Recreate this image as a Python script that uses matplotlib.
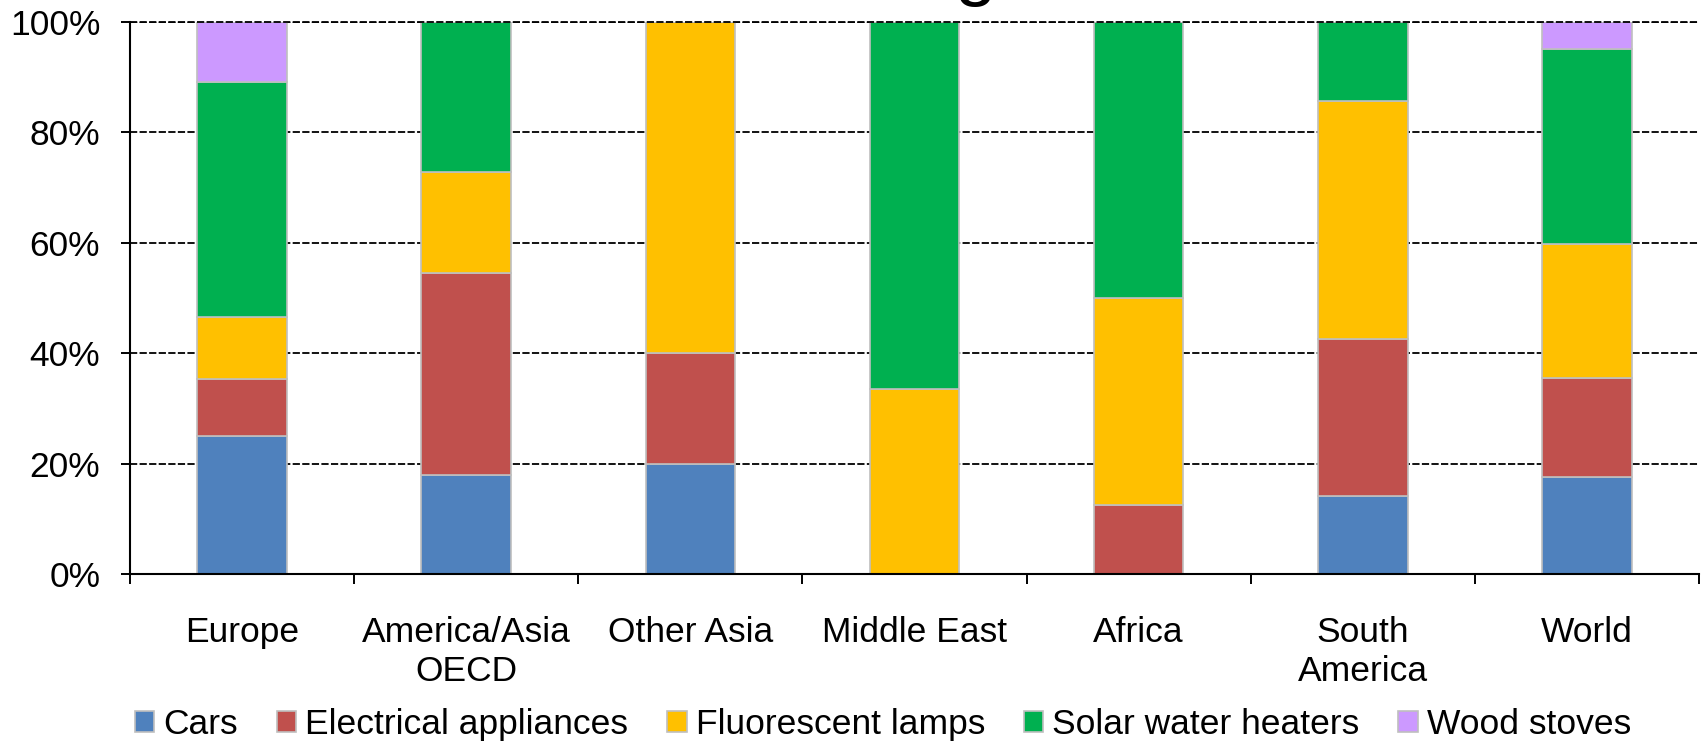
import matplotlib
matplotlib.use('Agg')
import matplotlib.pyplot as plt
from matplotlib.ticker import PercentFormatter
import numpy as np

# Share of savings per measure, by region (percent of regional total)
regions = ['Europe', 'America/Asia\nOECD', 'Other Asia', 'Middle East',
           'Africa', 'South\nAmerica', 'World']
cars = [25, 18, 20, 0, 0, 14.2, 17.5]
electrical = [10.3, 36.5, 20, 0, 12.5, 28.4, 17.9]
fluorescent = [11.2, 18.3, 60, 33.5, 37.5, 43.1, 24.4]
solar = [42.5, 27.2, 0, 66.5, 50, 14.3, 35.2]
wood = [11, 0, 0, 0, 0, 0, 5]

series_names = ['Cars', 'Electrical appliances', 'Fluorescent lamps',
                'Solar water heaters', 'Wood stoves']
colors = ['#4F81BD', '#C0504D', '#FFC000', '#00B050', '#CC99FF']


def create_chart():
    plt.rcParams['font.family'] = ['Liberation Sans', 'DejaVu Sans']

    fig = plt.figure(figsize=(17.06, 7.44), dpi=100)
    ax = fig.add_axes([0.0762, 0.2285, 0.9197, 0.7423])

    x = np.arange(len(regions))
    bottom = np.zeros(len(regions))
    for name, vals, col in zip(series_names,
                               [cars, electrical, fluorescent, solar, wood],
                               colors):
        vals = np.array(vals, dtype=float)
        ax.bar(x, vals, width=0.40, bottom=bottom, color=col,
               edgecolor='#BFBFBF', linewidth=1.2, label=name, zorder=2)
        bottom += vals

    # Axis limits and ticks
    ax.set_xlim(-0.5, len(regions) - 0.5)
    ax.set_ylim(0, 100)
    ax.set_yticks([0, 20, 40, 60, 80, 100])
    ax.yaxis.set_major_formatter(PercentFormatter(xmax=100, decimals=0))
    ax.tick_params(axis='y', labelsize=25.5, direction='out', length=6.5,
                   width=1.4, pad=15)

    ax.set_xticks(x)
    ax.set_xticklabels(regions, fontsize=25.5, linespacing=1.25)
    ax.tick_params(axis='x', which='major', length=0, pad=30)
    ax.set_xticks(np.arange(-0.5, len(regions)), minor=True)
    ax.tick_params(axis='x', which='minor', direction='out', length=7,
                   width=1.4)

    for side in ['top', 'right']:
        ax.spines[side].set_visible(False)
    for side in ['left', 'bottom']:
        ax.spines[side].set_linewidth(1.5)
        ax.spines[side].set_zorder(3)

    # Dashed horizontal gridlines
    ax.yaxis.grid(True, color='black', linewidth=1.3,
                  linestyle=(0, (4, 1.3)), zorder=0)
    ax.set_axisbelow(True)
    ax.axhline(100, color='black', linewidth=1.3,
               linestyle=(0, (4, 1.3)), zorder=3, clip_on=False)

    # Title sits mostly above the canvas
    fig.text(976 / 1706, 1 + 8 / 744, 'g', ha='center', va='baseline',
             fontsize=54)

    fig.legend(loc='center', bbox_to_anchor=(883 / 1706, 0.026), ncol=5,
               frameon=False, fontsize=25.5, handlelength=0.55,
               handleheight=0.55, handletextpad=0.25, columnspacing=1.1,
               borderpad=0, borderaxespad=0)

    fig.savefig('out.png', dpi=100)
    print("Chart saved as 'out.png'.")


if __name__ == "__main__":
    create_chart()
